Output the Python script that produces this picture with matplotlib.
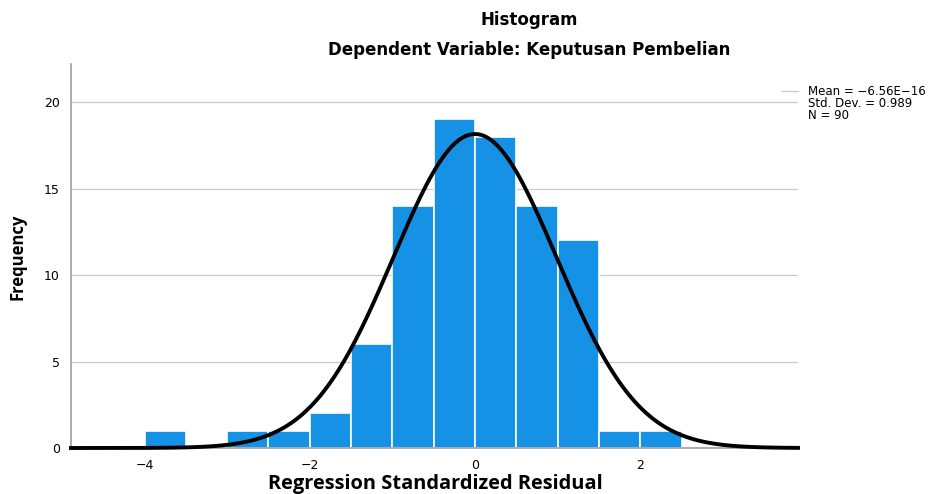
import numpy as np
import matplotlib
matplotlib.use("Agg")
import matplotlib.pyplot as plt
from matplotlib.lines import Line2D

# histogram data
bin_edges = [-4.0, -3.5, -3.0, -2.5, -2.0, -1.5, -1.0, -0.5, 0.0, 0.5, 1.0, 1.5, 2.0, 2.5]
counts = [1, 0, 1, 1, 2, 6, 14, 19, 18, 14, 12, 1, 1]
mean = -6.56e-16
std_dev = 0.989
n_obs = 90

plt.rcParams["font.family"] = ["DejaVu Sans"]

fig = plt.figure(figsize=(9.33, 4.94), dpi=100)
ax = fig.add_axes([71 / 933, 1 - 448 / 494, (798 - 71) / 933, (448 - 64) / 494])

edges = np.array(bin_edges)
widths = np.diff(edges)
ax.bar(edges[:-1], counts, width=widths, align="edge", color="#1591E6",
       edgecolor="white", linewidth=1.2, zorder=2)

# normal curve
xlo, xhi = -4.89, 3.91
bw = widths[0]
xs = np.linspace(xlo, xhi, 400)
ys = n_obs * bw * np.exp(-0.5 * ((xs - mean) / std_dev) ** 2) / (std_dev * np.sqrt(2 * np.pi))
ax.plot(xs, ys, color="black", linewidth=2.8, zorder=3, clip_on=False)

ax.set_xlim(xlo, xhi)
ax.set_ylim(0, 22.2)
ax.set_xticks([-4, -2, 0, 2])
ax.set_xticklabels(["\u22124", "\u22122", "0", "2"])
ax.set_yticks([0, 5, 10, 15, 20])
ax.tick_params(length=0, labelsize=9, pad=8)
ax.yaxis.grid(True, color="#c8c8c8", linewidth=0.9, zorder=0)
ax.set_axisbelow(True)
for s in ["top", "right"]:
    ax.spines[s].set_visible(False)
for s in ["left", "bottom"]:
    ax.spines[s].set_color("#a0a0a0")
    ax.spines[s].set_linewidth(1.2)

fig.text(529 / 933, 1 - 20 / 494, "Histogram", ha="center", va="center",
         fontsize=12, fontweight="bold")
fig.text(529 / 933, 1 - 50 / 494, "Dependent Variable: Keputusan Pembelian",
         ha="center", va="center", fontsize=12, fontweight="bold")
fig.text(435 / 933, 1 - 484 / 494, "Regression Standardized Residual",
         ha="center", va="center", fontsize=14.4, fontweight="bold",
         family=["Open Sans", "DejaVu Sans"])
fig.text(18 / 933, 1 - 257 / 494, "Frequency", ha="center", va="center",
         rotation=90, fontsize=12, fontweight="bold",
         family=["Open Sans", "DejaVu Sans"])

stats = "Mean = \u22126.56E\u221216\nStd. Dev. = 0.989\nN = 90"
fig.text(808 / 933, 1 - 85 / 494, stats, ha="left", va="top",
         fontsize=8.5, linespacing=0.9)
fig.add_artist(Line2D([782 / 933, 798 / 933], [1 - 91 / 494, 1 - 91 / 494],
                      color="#c8c8c8", linewidth=0.9))

fig.savefig("out.png", dpi=100)
